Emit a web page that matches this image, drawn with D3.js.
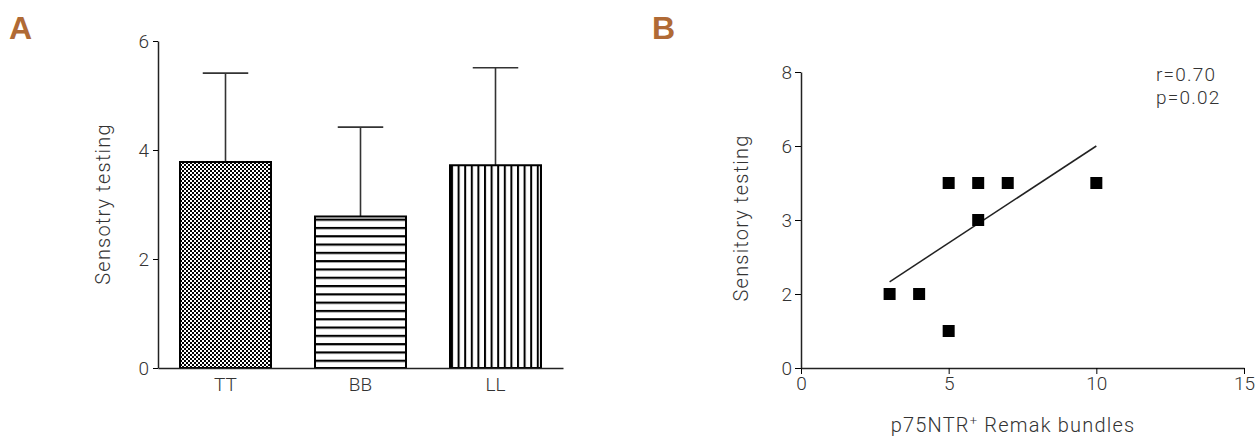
<!DOCTYPE html>
<html>
<head>
<meta charset="utf-8">
<script src="https://cdn.jsdelivr.net/npm/d3@7"></script>
<style>
  body { margin: 0; background: #fff; }
  svg text { font-family: Roboto, "Liberation Sans", sans-serif; font-weight: 300; fill: #333; }
  .label { letter-spacing: 1.2px; }
  .panel-letter { font-family: "Liberation Sans", Arial, sans-serif !important; font-weight: bold !important; fill: #b06a35 !important; }
</style>
</head>
<body>
<svg id="chart" width="1258" height="437"></svg>
<script>
// Panel A data
const groups = ["TT", "BB", "LL"];
const means = [3.78, 2.78, 3.72];
const errors = [1.63, 1.64, 1.79];
const yTicksA = [0, 2, 4, 6];

// Panel B data
const bundles = [3, 4, 5, 5, 6, 6, 7, 10];
const sensory = [2, 2, 5, 1, 5, 4, 5, 5];
const fitX = [3, 10];
const fitY = [2.33, 6.0];
const xTicksB = [0, 5, 10, 15];
const yTicksB = [0, 2, 4, 6, 8];
const yTickLabelsB = ["0", "2", "3", "6", "8"];
const stats = ["r=0.70", "p=0.02"];

const svg = d3.select("#chart");
const defs = svg.append("defs");

// fill patterns for the bars
const checker = defs.append("pattern").attr("id", "pat-checker")
    .attr("patternUnits", "userSpaceOnUse").attr("width", 4).attr("height", 4);
checker.append("rect").attr("width", 4).attr("height", 4).attr("fill", "#fff");
checker.append("rect").attr("width", 2).attr("height", 2).attr("fill", "#000");
checker.append("rect").attr("x", 2).attr("y", 2).attr("width", 2).attr("height", 2).attr("fill", "#000");

const hlines = defs.append("pattern").attr("id", "pat-h")
    .attr("patternUnits", "userSpaceOnUse").attr("width", 8).attr("height", 8.3)
    .attr("y", 368);
hlines.append("rect").attr("width", 8).attr("height", 8.3).attr("fill", "#fff");
hlines.append("rect").attr("width", 8).attr("height", 2.2).attr("fill", "#000");

const vlines = defs.append("pattern").attr("id", "pat-v")
    .attr("patternUnits", "userSpaceOnUse").attr("width", 6.6).attr("height", 8)
    .attr("x", 451);
vlines.append("rect").attr("width", 6.6).attr("height", 8).attr("fill", "#fff");
vlines.append("rect").attr("width", 2).attr("height", 8).attr("fill", "#000");

const patterns = ["url(#pat-checker)", "url(#pat-h)", "url(#pat-v)"];

// ---------- Panel A ----------
svg.append("text").attr("class", "panel-letter")
    .attr("x", 9).attr("y", 39).attr("font-size", "32px").text("A");

const xA = d3.scaleBand().domain(groups).range([158, 563]).paddingInner(0.326).paddingOuter(0.163);
const yA = d3.scaleLinear().domain([0, 6]).range([368, 41]);

const axisA = svg.append("g").attr("transform", "translate(158,0)")
    .call(d3.axisLeft(yA).tickValues(yTicksA).tickFormat(d3.format("d"))
        .tickSize(5).tickSizeOuter(0).tickPadding(4));
axisA.selectAll("text").attr("font-size", "19px");

const bw = xA.bandwidth();

svg.selectAll(".err")
    .data(groups)
    .enter()
    .append("g")
    .each(function(g, i) {
        const cx = xA(g) + bw / 2;
        const sel = d3.select(this);
        sel.append("line").attr("x1", cx).attr("x2", cx)
            .attr("y1", yA(means[i])).attr("y2", yA(means[i] + errors[i]))
            .attr("stroke", "#333").attr("stroke-width", 1.6);
        sel.append("line").attr("x1", cx - bw / 4).attr("x2", cx + bw / 4)
            .attr("y1", yA(means[i] + errors[i])).attr("y2", yA(means[i] + errors[i]))
            .attr("stroke", "#333").attr("stroke-width", 1.6);
    });

svg.selectAll(".bar")
    .data(groups)
    .enter()
    .append("rect")
    .attr("class", "bar")
    .attr("x", g => xA(g))
    .attr("y", (g, i) => yA(means[i]))
    .attr("width", bw)
    .attr("height", (g, i) => yA(0) - yA(means[i]))
    .attr("fill", (g, i) => patterns[i])
    .attr("stroke", "#000")
    .attr("stroke-width", 2);

// x axis baseline for A
const xAxisA = svg.append("g").attr("transform", "translate(0,368)")
    .call(d3.axisBottom(xA).tickSize(0).tickSizeOuter(0).tickPadding(10));
xAxisA.select(".domain").attr("stroke", "#222").attr("stroke-width", 1.5);
xAxisA.selectAll("text").attr("font-size", "19px");
axisA.select(".domain").attr("stroke", "#222").attr("stroke-width", 1.5);

svg.append("text")
    .attr("class", "label")
    .attr("text-anchor", "middle")
    .attr("transform", "rotate(-90)")
    .attr("x", -204)
    .attr("y", 110)
    .attr("font-size", "20px")
    .text("Sensotry testing");

// ---------- Panel B ----------
svg.append("text").attr("class", "panel-letter")
    .attr("x", 652).attr("y", 39).attr("font-size", "32px").text("B");

const xB = d3.scaleLinear().domain([0, 15]).range([801, 1244]);
const yB = d3.scaleLinear().domain([0, 8]).range([368, 72]);

const xAxisB = svg.append("g").attr("transform", "translate(0,368)")
    .call(d3.axisBottom(xB).tickValues(xTicksB).tickSize(6).tickSizeOuter(0).tickPadding(3));
xAxisB.selectAll("text").attr("font-size", "19px");
xAxisB.select(".domain").attr("stroke", "#222").attr("stroke-width", 1.5);

const yAxisB = svg.append("g").attr("transform", "translate(801,0)")
    .call(d3.axisLeft(yB).tickValues(yTicksB).tickFormat((d, i) => yTickLabelsB[i])
        .tickSize(6).tickSizeOuter(0).tickPadding(3));
yAxisB.selectAll("text").attr("font-size", "19px");
yAxisB.select(".domain").attr("stroke", "#222").attr("stroke-width", 1.5);

svg.append("line")
    .attr("x1", xB(fitX[0])).attr("y1", yB(fitY[0]))
    .attr("x2", xB(fitX[1])).attr("y2", yB(fitY[1]))
    .attr("stroke", "#222").attr("stroke-width", 1.5);

const sq = 12;
svg.selectAll(".pt")
    .data(bundles)
    .enter()
    .append("rect")
    .attr("class", "pt")
    .attr("x", d => xB(d) - sq / 2)
    .attr("y", (d, i) => yB(sensory[i]) - sq / 2)
    .attr("width", sq)
    .attr("height", sq)
    .attr("fill", "#000");

svg.selectAll(".stat")
    .data(stats)
    .enter()
    .append("text")
    .attr("class", "label")
    .attr("x", 1156)
    .attr("y", (d, i) => 81 + i * 23)
    .attr("font-size", "19px")
    .text(d => d);

svg.append("text")
    .attr("class", "label")
    .attr("text-anchor", "middle")
    .attr("transform", "rotate(-90)")
    .attr("x", -218)
    .attr("y", 748)
    .attr("font-size", "20px")
    .text("Sensitory testing");

const xLabel = svg.append("text")
    .attr("class", "label")
    .attr("text-anchor", "middle")
    .attr("x", 1013)
    .attr("y", 432)
    .attr("font-size", "20px");
xLabel.append("tspan").text("p75NTR");
xLabel.append("tspan").attr("font-size", "13px").attr("dy", -7).text("+");
xLabel.append("tspan").attr("dy", 7).text(" Remak bundles");
</script>
</body>
</html>
